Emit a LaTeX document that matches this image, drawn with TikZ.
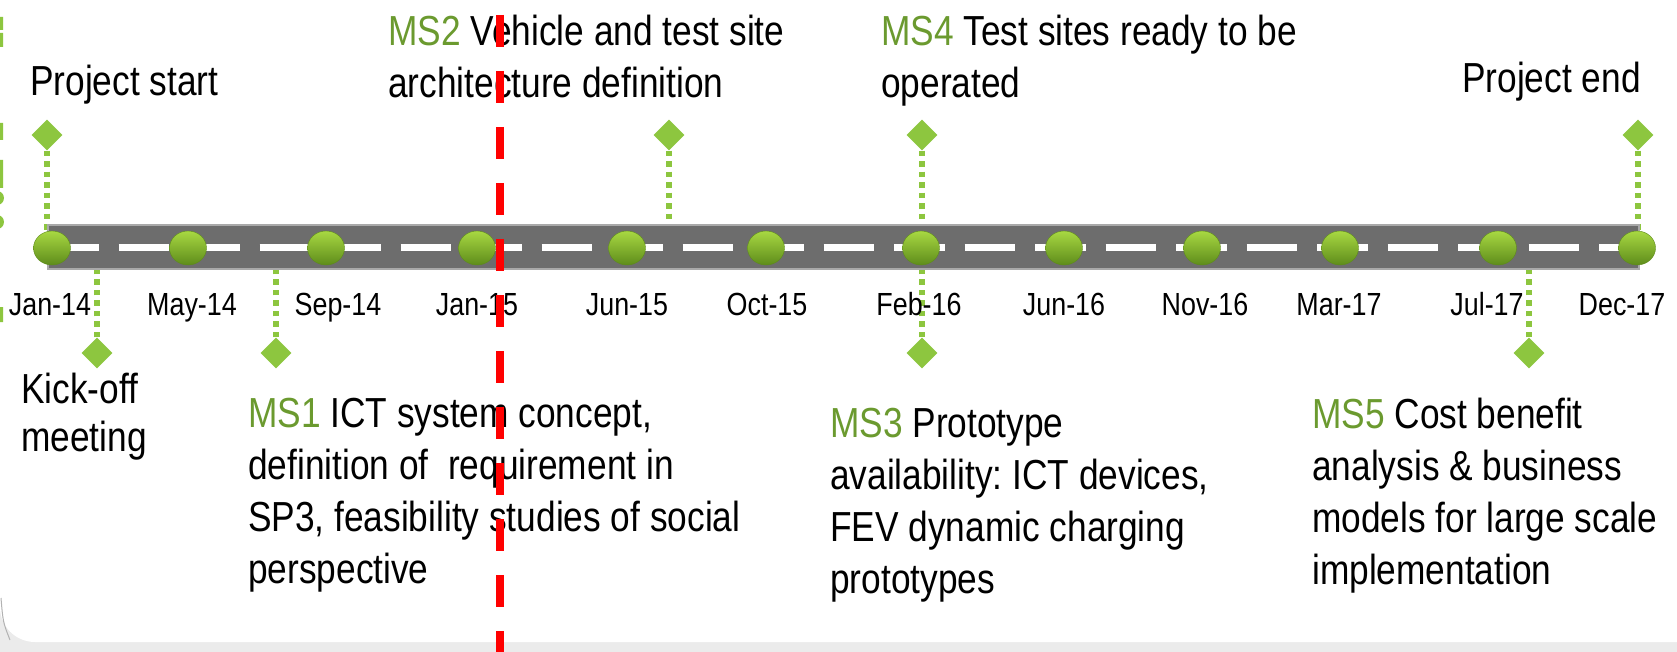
\documentclass[tikz,border=0pt]{standalone}
\usepackage{fontspec}
\setmainfont{Liberation Sans}[FakeStretch=0.84]
\usepackage{tikz}
\usetikzlibrary{
  shapes.geometric,%
  positioning,%
  calc
}
\frenchspacing

\definecolor{roadgray}{HTML}{6D6D6D}
\definecolor{roadedge}{HTML}{A9A9A9}
\definecolor{stemgreen}{HTML}{8DC63F}
\definecolor{msgreen}{HTML}{6B9A2F}
\definecolor{balltop}{HTML}{A8D842}
\definecolor{ballbot}{HTML}{5E8C1B}
\definecolor{pagegray}{HTML}{EBEBEB}

\newcommand{\ms}[1]{\textcolor{msgreen}{#1}}
\newcommand{\bigtext}{\fontsize{42pt}{52pt}\selectfont}
\newcommand{\monthtext}{\fontsize{32pt}{36pt}\selectfont}

\tikzset{
  milestone/.style={diamond, fill=stemgreen, inner sep=0pt, minimum size=31pt},
  stem/.style={stemgreen, line width=5.5pt, dash pattern=on 5.5pt off 5pt},
  station/.style={ellipse, inner sep=0pt, minimum width=37pt, minimum height=34pt,
    top color=balltop, bottom color=ballbot, draw=ballbot, thin},
  month/.style={font=\monthtext, anchor=base, inner sep=0pt},
  note/.style={font=\bigtext, align=left, anchor=north west, inner sep=0pt},
}

\begin{document}
\begin{tikzpicture}[x=1pt, y=-1pt]
  \useasboundingbox (0,0) rectangle (1677,652);
  % page behind the white panel
  \fill[pagegray] (0,0) rectangle (1677,652);
  \fill[white, rounded corners=35pt] (0,-60) rectangle (1740,642);
  \draw[gray!60, line width=1pt] (1,598) .. controls (3,622) .. (10,640);
  % bits of the slide next door
  \fill[stemgreen] (0,17) rectangle (3,30) (0,33) rectangle (3,47)
    (0,123) rectangle (3,140) (0,160) rectangle (3,188) (0,307) rectangle (3,322);
  \fill[stemgreen] (-3,198) circle (7pt) (-3,222) circle (7pt);

  % milestones above the road
  \node[milestone] (dstart) at (47,135) {};
  \node[milestone] (dms2) at (669,135) {};
  \node[milestone] (dms4) at (922,135) {};
  \node[milestone] (dend) at (1638,135) {};
  % and below it
  \node[milestone] (dkick) at (97,353) {};
  \node[milestone] (dms1) at (276,353) {};
  \node[milestone] (dms3) at (922,353) {};
  \node[milestone] (dms5) at (1529,353) {};

  % where the stems meet the road
  \coordinate (rstart) at (47,247);
  \coordinate (rms2) at (669,247);
  \coordinate (rfeb) at (922,247);
  \coordinate (rend) at (1638,247);
  \coordinate (rkick) at (97,247);
  \coordinate (rms1) at (276,247);
  \coordinate (rms5) at (1529,247);

  \draw[stem] (dstart) -- (rstart);
  \draw[stem] (dms2) -- (rms2);
  \draw[stem] (dms4) -- (rfeb);
  \draw[stem] (dend) -- (rend);
  \draw[stem] (dkick) -- (rkick);
  \draw[stem] (dms1) -- (rms1);
  \draw[stem] (dms3) -- (rfeb);
  \draw[stem] (dms5) -- (rms5);

  % the road
  \filldraw[fill=roadgray, draw=roadedge, line width=1.5pt] (48,225) rectangle (1639,269);
  \draw[white, line width=7pt, dash pattern=on 50.5pt off 20pt] (48,248) -- (1639,248);

  % stations and months
  \foreach \bx/\lx/\m [count=\i] in {52/50/Jan-14, 188/192/May-14, 326/338/Sep-14,
      477/477/Jan-15, 627/627/Jun-15, 766/767/Oct-15, 921/919/Feb-16,
      1064/1064/Jun-16, 1202/1205/Nov-16, 1340/1339/Mar-17, 1498/1487/Jul-17,
      1637/1622/Dec-17} {
    \node[station] (st\i) at (\bx,248) {};
    \node[month] (mo\i) at (\lx,315) {\m};
  }

  % texts
  \node[note] (tstart) at (30,65) {Project start};
  \node[note] (tms2) at (388,15) {\ms{MS2} Vehicle and test site\\architecture definition};
  \node[note] (tms4) at (881,15) {\ms{MS4} Test sites ready to be\\operated};
  \node[note] (tend) at (1462,62) {Project end};
  \node[note, font=\fontsize{42pt}{48pt}\selectfont] (tkick) at (21,373) {Kick-off\\meeting};
  \node[note] (tms1) at (248,398) {\ms{MS1} ICT system concept,\\definition of~ requirement in\\SP3, feasibility studies of social\\perspective};
  \node[note] (tms3) at (830,408) {\ms{MS3} Prototype\\availability: ICT devices,\\FEV dynamic charging\\prototypes};
  \node[note] (tms5) at (1312,398) {\ms{MS5} Cost benefit\\analysis \& business\\models for large scale\\implementation};

  % cut-off date
  \draw[red, line width=8pt, dash pattern=on 32pt off 24pt] (500,15) -- (500,660);
\end{tikzpicture}
\end{document}
